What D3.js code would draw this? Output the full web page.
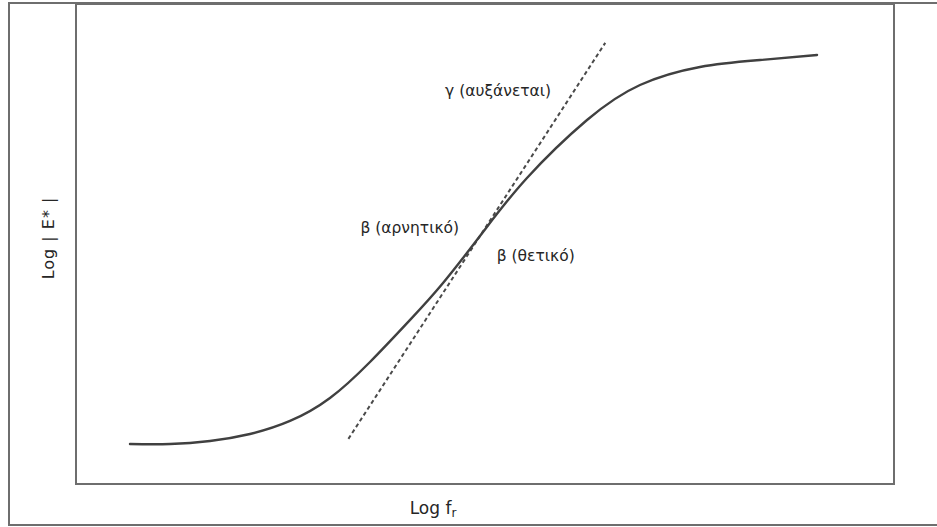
<!DOCTYPE html>
<html>
<head>
<meta charset="utf-8">
<script src="https://cdn.jsdelivr.net/npm/d3@7/dist/d3.min.js"></script>
<style>
  html, body { margin: 0; padding: 0; background: #fff; }
  svg { display: block; }
  text { font-family: "DejaVu Sans", Verdana, sans-serif; fill: #262626; }
</style>
</head>
<body>
<svg id="chart" width="937" height="527"></svg>
<script>
// Master curve: log |E*| versus log reduced frequency (arbitrary units 0–100)
const curveX = [6.6, 11.49, 16.38, 21.27, 26.16, 31.05, 35.94, 40.83, 44.87, 49.76, 55.13, 62.47, 68.95, 76.28, 83.62, 90.59];
const curveY = [8.33, 8.33, 8.96, 10.42, 13.13, 17.92, 25.42, 34.17, 41.88, 52.5, 63.75, 75.83, 83.13, 86.88, 88.33, 89.38];

// Tangent at the inflection point (end points)
const tangentX = [33.3, 64.7];
const tangentY = [9.4, 91.9];

// Annotations (centre positions)
const labelText = ["γ (αυξάνεται)", "β (αρνητικό)", "β (θετικό)"];
const labelX = [51.6, 40.8, 56.2];
const labelY = [81.7, 53.3, 47.3];

const xTitle = "Log f";
const xTitleSub = "r";
const yTitle = "Log | E* |";

const svg = d3.select("#chart");
const plot = { left: 76, top: 4, right: 894, bottom: 484 };

const x = d3.scaleLinear().domain([0, 100]).range([plot.left, plot.right]);
const y = d3.scaleLinear().domain([0, 100]).range([plot.bottom, plot.top]);

const frameColor = "#6e6e6e";

// Outer frame (runs past the right edge of the page)
svg.append("rect")
  .attr("x", 9).attr("y", 3)
  .attr("width", 960).attr("height", 522)
  .attr("fill", "none")
  .attr("stroke", frameColor)
  .attr("stroke-width", 2);

// Plot box
svg.append("rect")
  .attr("x", x(0)).attr("y", y(100))
  .attr("width", x(100) - x(0)).attr("height", y(0) - y(100))
  .attr("fill", "none")
  .attr("stroke", frameColor)
  .attr("stroke-width", 2);

// Tangent (dashed)
const tangent = tangentX.map((v, i) => [v, tangentY[i]]);
svg.append("path")
  .datum(tangent)
  .attr("d", d3.line().x(d => x(d[0])).y(d => y(d[1])))
  .attr("fill", "none")
  .attr("stroke", "#4a4a4a")
  .attr("stroke-width", 2)
  .attr("stroke-dasharray", "4,3");

// Master curve
const pts = curveX.map((v, i) => [v, curveY[i]]);
svg.append("path")
  .datum(pts)
  .attr("d", d3.line().x(d => x(d[0])).y(d => y(d[1])).curve(d3.curveNatural))
  .attr("fill", "none")
  .attr("stroke", "#404040")
  .attr("stroke-width", 2.4)
  .attr("stroke-linecap", "round");

// Annotation labels
svg.selectAll("text.ann")
  .data(labelText)
  .join("text")
  .attr("class", "ann")
  .attr("x", (d, i) => x(labelX[i]))
  .attr("y", (d, i) => y(labelY[i]))
  .attr("text-anchor", "middle")
  .attr("dominant-baseline", "middle")
  .attr("font-size", 15.5)
  .text(d => d);

// Axis titles
const xt = svg.append("text")
  .attr("x", 433)
  .attr("y", 514)
  .attr("text-anchor", "middle")
  .attr("font-size", 17);
xt.append("tspan").text(xTitle);
xt.append("tspan").attr("font-size", 12).attr("dy", 3).text(xTitleSub);

svg.append("text")
  .attr("transform", "translate(54,238) rotate(-90)")
  .attr("text-anchor", "middle")
  .attr("font-size", 16)
  .attr("letter-spacing", 1)
  .text(yTitle);
</script>
</body>
</html>
